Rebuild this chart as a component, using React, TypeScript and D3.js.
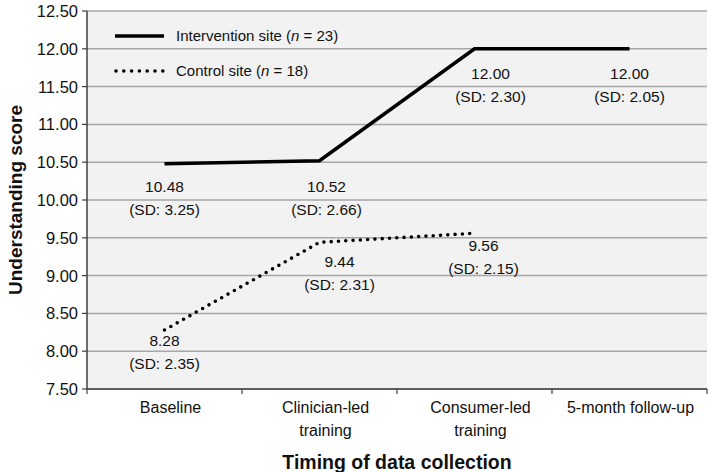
import React from "react";
import * as d3 from "d3";

const categories: string[][] = [
  ["Baseline"],
  ["Clinician-led", "training"],
  ["Consumer-led", "training"],
  ["5-month follow-up"],
];
const interventionMeans = [10.48, 10.52, 12.0, 12.0];
const interventionSD = [3.25, 2.66, 2.3, 2.05];
const controlMeans = [8.28, 9.44, 9.56];
const controlSD = [2.35, 2.31, 2.15];
const yTickValues = [7.5, 8.0, 8.5, 9.0, 9.5, 10.0, 10.5, 11.0, 11.5, 12.0, 12.5];
const legendLabels = ["Intervention site", "Control site"];
const legendN = [23, 18];

// label placement offsets (pixels) relative to each point
const interventionLabelOffsets: [number, number][] = [
  [0, 22.5],
  [7, 25.5],
  [16, 24.5],
  [0, 24.5],
];
const controlLabelOffsets: [number, number][] = [
  [0, 10],
  [20, 19],
  [9, 12],
];

const W = 709;
const H = 472;
const plotLeft = 87;
const plotRight = 707;
const plotTop = 11;
const plotBottom = 389;
const FONT = "'Liberation Sans', Arial, sans-serif";

export default function App() {
  const x = d3
    .scaleBand<number>()
    .domain(d3.range(categories.length))
    .range([plotLeft, plotRight]);
  const y = d3.scaleLinear().domain([7.5, 12.5]).range([plotBottom, plotTop]);
  const cx = (i: number) => (x(i) as number) + x.bandwidth() / 2;

  const line = d3
    .line<number>()
    .x((_, i) => cx(i))
    .y((d) => y(d));

  const boundaries = d3.range(categories.length + 1).map((i) => plotLeft + i * x.bandwidth());

  const renderLabels = (
    means: number[],
    sds: number[],
    offsets: [number, number][],
    key: string
  ) =>
    means.map((m, i) => {
      const px = cx(i) + offsets[i][0];
      const py = y(m) + offsets[i][1];
      return (
        <g key={key + i} fontFamily={FONT} fontSize={15.5} fill="#111" textAnchor="middle">
          <text x={px} y={py} dy="0.36em">
            {m.toFixed(2)}
          </text>
          <text x={px} y={py + 23} dy="0.36em">
            {`(SD: ${sds[i].toFixed(2)})`}
          </text>
        </g>
      );
    });

  return (
    <div style={{ position: "absolute", left: 0, top: 0 }}>
      <svg width={W} height={H} style={{ display: "block", background: "#fff" }}>
        <rect
          x={plotLeft}
          y={plotTop}
          width={plotRight - plotLeft}
          height={plotBottom - plotTop}
          fill="#f2f2f2"
        />
        {yTickValues.map((v) => (
          <line
            key={"g" + v}
            x1={plotLeft}
            x2={plotRight}
            y1={y(v)}
            y2={y(v)}
            stroke="#a6a6a6"
            strokeWidth={1.5}
          />
        ))}
        {/* axes */}
        <line x1={plotLeft} x2={plotLeft} y1={plotTop} y2={plotBottom} stroke="#404040" strokeWidth={1.5} />
        <line x1={plotLeft} x2={plotRight} y1={plotBottom} y2={plotBottom} stroke="#404040" strokeWidth={1.5} />
        {yTickValues.map((v) => (
          <g key={"t" + v}>
            <line x1={plotLeft - 5} x2={plotLeft} y1={y(v)} y2={y(v)} stroke="#404040" strokeWidth={1.2} />
            <text
              x={78}
              y={y(v)}
              dy="0.36em"
              textAnchor="end"
              fontFamily={FONT}
              fontSize={16.5}
              fill="#111"
            >
              {v.toFixed(2)}
            </text>
          </g>
        ))}
        {boundaries.map((bx, i) => (
          <line key={"xt" + i} x1={bx} x2={bx} y1={plotBottom} y2={plotBottom + 5} stroke="#404040" strokeWidth={1.2} />
        ))}
        {categories.map((lines, i) => (
          <text
            key={"c" + i}
            x={cx(i) + (i < 3 ? 6 : 1)}
            y={407}
            dy="0.36em"
            textAnchor="middle"
            fontFamily={FONT}
            fontSize={16}
            fill="#111"
          >
            {lines.map((l, j) => (
              <tspan key={j} x={cx(i) + (i < 3 ? 6 : 1)} dy={j === 0 ? "0.36em" : 23}>
                {l}
              </tspan>
            ))}
          </text>
        ))}
        {/* axis titles */}
        <text
          x={397}
          y={462}
          dy="0.36em"
          textAnchor="middle"
          fontFamily={FONT}
          fontWeight="bold"
          fontSize={19.5}
          fill="#111"
        >
          Timing of data collection
        </text>
        <text
          transform={`translate(15,${(plotTop + plotBottom) / 2}) rotate(-90)`}
          dy="0.36em"
          textAnchor="middle"
          fontFamily={FONT}
          fontWeight="bold"
          fontSize={19}
          fill="#111"
        >
          Understanding score
        </text>
        {/* series */}
        <path d={line(interventionMeans) || ""} fill="none" stroke="#000" strokeWidth={3.6} />
        <path
          d={line(controlMeans) || ""}
          fill="none"
          stroke="#000"
          strokeWidth={3.6}
          strokeLinecap="round"
          strokeDasharray="0 7.3"
        />
        {renderLabels(interventionMeans, interventionSD, interventionLabelOffsets, "i")}
        {renderLabels(controlMeans, controlSD, controlLabelOffsets, "c")}
        {/* legend */}
        <line x1={115} x2={164} y1={36} y2={36} stroke="#000" strokeWidth={3.6} />
        <line
          x1={116}
          x2={163}
          y1={71}
          y2={71}
          stroke="#000"
          strokeWidth={3.6}
          strokeLinecap="round"
          strokeDasharray="0 7.8"
        />
        {legendLabels.map((lab, i) => (
          <text
            key={"l" + i}
            x={176}
            y={i === 0 ? 36 : 71}
            dy="0.36em"
            fontFamily={FONT}
            fontSize={15}
            fill="#111"
          >
            {lab + " ("}
            <tspan fontStyle="italic">n</tspan>
            {` = ${legendN[i]})`}
          </text>
        ))}
      </svg>
    </div>
  );
}
